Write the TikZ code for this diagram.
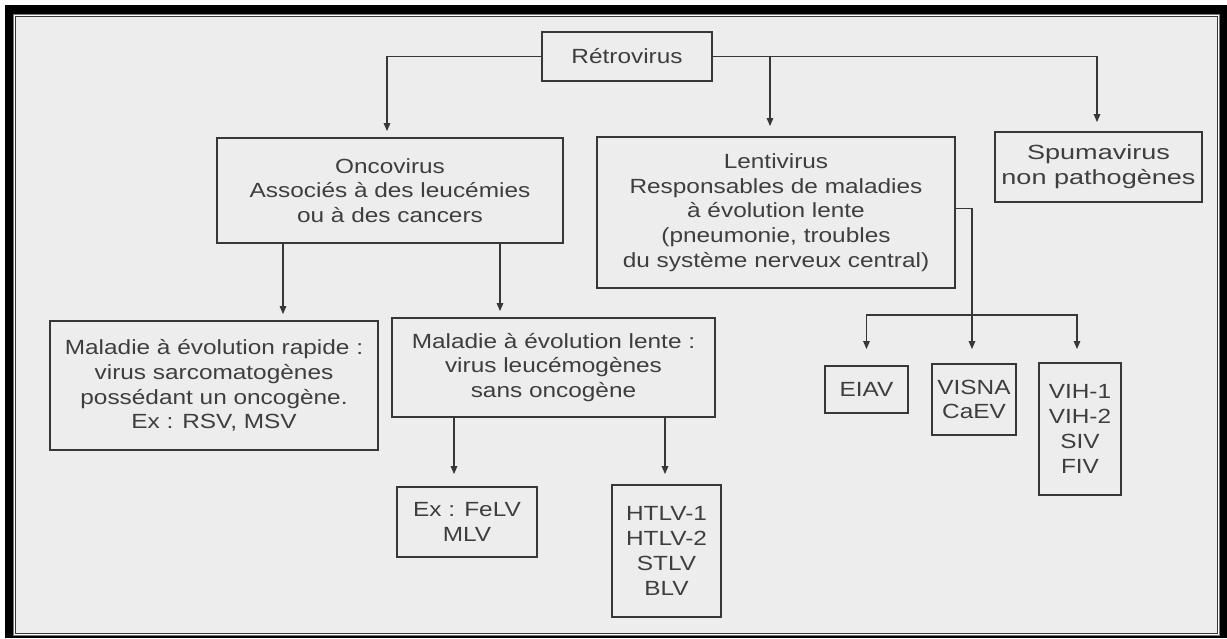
\documentclass[tikz,border=0pt]{standalone}
\usepackage{fontspec}
\setmainfont{Liberation Sans}[FakeStretch=1.19]
\newfontfamily\widesans{Liberation Sans}[FakeStretch=1.32]
\usetikzlibrary{arrows.meta}
\definecolor{paper}{RGB}{237,237,237}
\definecolor{ink}{RGB}{55,55,55}
\definecolor{txt}{RGB}{62,62,62}
\definecolor{rim}{RGB}{120,120,120}

\begin{document}
\begin{tikzpicture}[x=1pt,y=-1pt,
  box/.style={draw=ink, line width=1.8pt, text=txt, inner sep=0pt, align=center,
    font=\fontsize{20.5}{24.8}\selectfont},
  link/.style={draw=ink, line width=1.3pt},
  arr/.style={link, -{Triangle[length=8pt,width=6.5pt]}},
]
\useasboundingbox (0,0) rectangle (1227,638);

% page with its black frame and thin inner rule
\fill[white] (0,0) rectangle (1227,638);
\fill[black] (5,5) rectangle (1227,638);
\fill[white] (12.5,13.5) rectangle (1219.5,635.5);
\draw[rim, line width=1pt] (13,14) rectangle (1219,635);
\fill[paper] (15,16) rectangle (1217,633);
\draw[ink, line width=0.8pt] (15,16) rectangle (1217,633);

% boxes
\node[box, minimum width=170pt, minimum height=49pt]  (ret)   at (627,56.5)   {Rétrovirus};
\node[box, minimum width=346pt, minimum height=105pt] (onco)  at (390,190.5)  {Oncovirus\\Associés à des leucémies\\ou à des cancers};
\node[box, minimum width=358pt, minimum height=151pt] (lenti) at (776,212.5)  {Lentivirus\\Responsables de maladies\\à évolution lente\\(pneumonie, troubles\\du système nerveux central)};
\node[box, minimum width=207pt, minimum height=70pt, font=\widesans\fontsize{20.5}{24.8}\selectfont]  (spu) at (1098.5,167) {Spumavirus\\non pathogènes};
\node[box, minimum width=328pt, minimum height=129pt] (rap)   at (214,385.5)  {Maladie à évolution rapide :\\virus sarcomatogènes\\possédant un oncogène.\\Ex : RSV, MSV};
\node[box, minimum width=323pt, minimum height=99pt]  (lente) at (553.5,367.5){Maladie à évolution lente :\\virus leucémogènes\\sans oncogène};
\node[box, minimum width=140pt, minimum height=70pt]  (felv)  at (467,522)    {Ex : FeLV\\MLV};
\node[box, minimum width=109pt, minimum height=132pt] (htlv)  at (666.5,551)  {HTLV-1\\HTLV-2\\STLV\\BLV};
\node[box, minimum width=83pt, minimum height=47pt]   (eiav)  at (866.5,389.5){EIAV};
\node[box, minimum width=84pt, minimum height=71pt]   (visna) at (974,399.5)  {VISNA\\CaEV};
\node[box, minimum width=82pt, minimum height=132pt]  (vih)   at (1080,429)   {VIH-1\\VIH-2\\SIV\\FIV};

% connectors from Rétrovirus
\draw[arr, shorten >=6pt]  (ret.west) -| ([xshift=-3pt]onco.north);
\draw[arr, shorten >=9pt]  (ret.east) -| ([xshift=-1.5pt]spu.north);
\draw[arr, shorten >=10pt] ([xshift=-6pt]lenti.north |- ret.east) -- ([xshift=-6pt]lenti.north);

% Oncovirus branches
\draw[arr, shorten >=6pt] ([xshift=69pt]rap.north |- onco.south) -- ([xshift=69pt]rap.north);
\draw[arr, shorten >=6pt] ([xshift=-53.5pt]lente.north |- onco.south) -- ([xshift=-53.5pt]lente.north);
\draw[arr, shorten >=12pt] ([xshift=-13pt]felv.north |- lente.south) -- ([xshift=-13pt]felv.north);
\draw[arr, shorten >=10pt] ([xshift=-1.5pt]htlv.north |- lente.south) -- ([xshift=-1.5pt]htlv.north);

% Lentivirus branches
\coordinate (bar) at (972,315);
\draw[arr, shorten >=14pt] ([yshift=4pt]lenti.east) -| ([xshift=-2pt]visna.north);
\draw[arr, shorten >=16pt] (bar) -| (eiav.north);
\draw[arr, shorten >=13pt] (bar) -| ([xshift=-3pt]vih.north);
\end{tikzpicture}
\end{document}
